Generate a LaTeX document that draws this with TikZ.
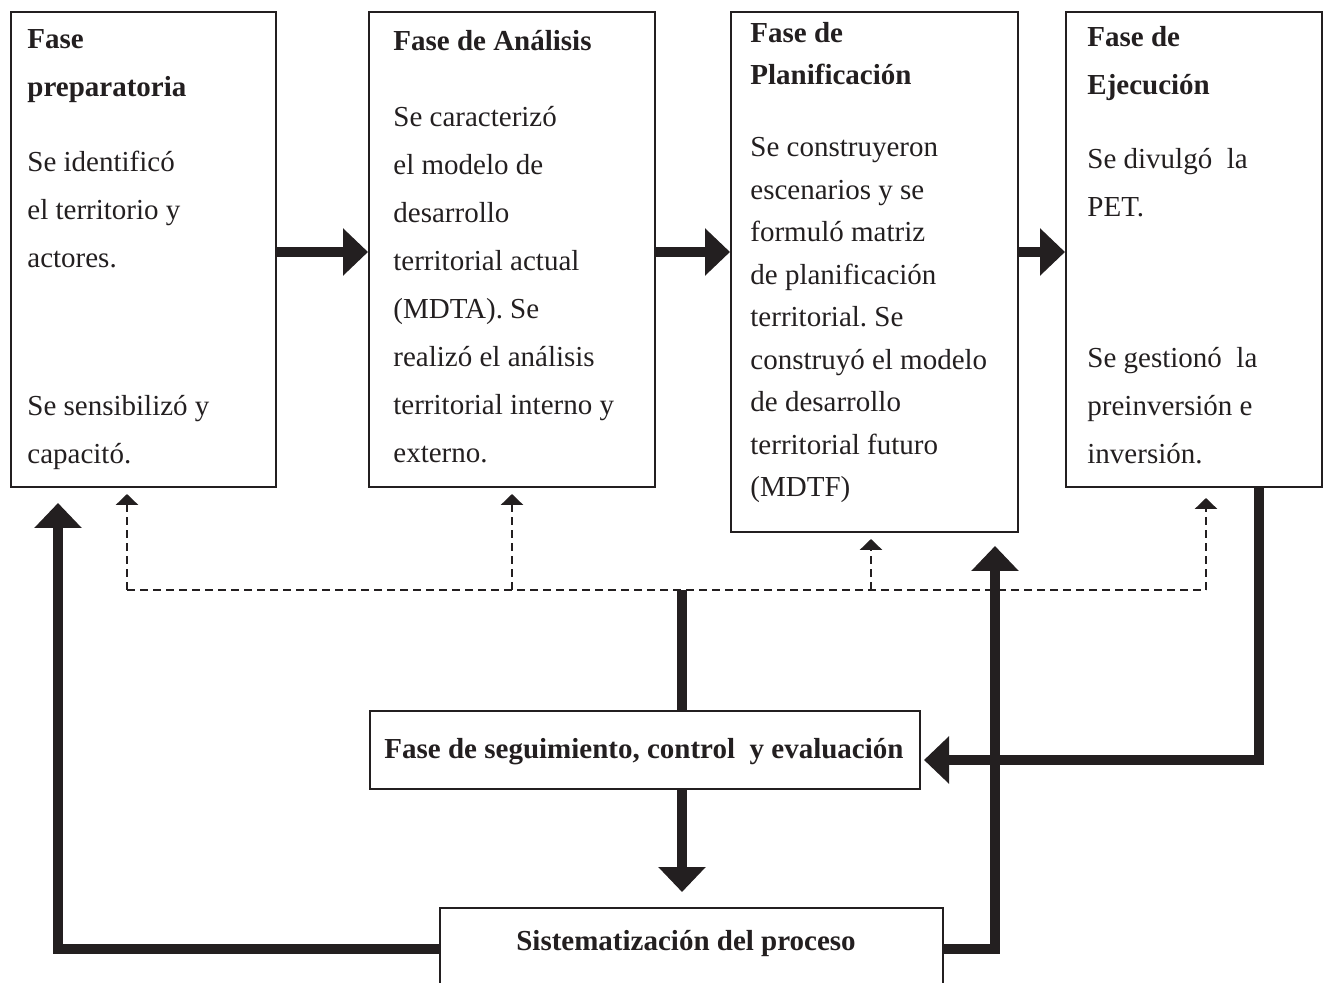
\documentclass[tikz,border=0pt]{standalone}
\usepackage{fontspec}
\setmainfont{Liberation Serif}
\frenchspacing
\usetikzlibrary{arrows.meta,fit}
\definecolor{ink}{HTML}{231F20}
\tikzset{
 box/.style={draw=ink, line width=1pt, inner sep=0pt, rectangle},
 txt/.style={anchor=base west, inner sep=0pt, text=ink, font=\fontsize{14.5pt}{24pt}\selectfont},
 ttl/.style={txt, font=\fontsize{14.5pt}{24pt}\selectfont\bfseries},
 ctr/.style={anchor=base, inner sep=0pt, text=ink, font=\fontsize{14.5pt}{24pt}\selectfont\bfseries},
 thk/.style={line width=5pt, draw=ink, -{Triangle[width=23pt,length=12.5pt]}},
 thkline/.style={line width=5pt, draw=ink},
 dln/.style={line width=1.4pt, draw=ink, dash pattern=on 4pt off 2.5pt},
 dsh/.style={dln, -{Triangle[width=11pt,length=5.5pt]}},
}
\begin{document}
\begin{tikzpicture}[x=0.5pt,y=-0.5pt]
\useasboundingbox (0,0) rectangle (1334,983);
\clip (0,0) rectangle (1334,983);

% boxes
\node[box, fit={(11,12)(276,487)}] (b1) {};
\node[box, fit={(369,12)(655,487)}] (b2) {};
\node[box, fit={(731,12)(1018,532)}] (b3) {};
\node[box, fit={(1066,12)(1322,487)}] (b4) {};
\node[box, fit={(370,711)(920,789)}] (seg) {};
\node[ctr] (segt) at (644,759) {Fase de seguimiento, control\ \ y evaluación};
\node[box, fit={(440,908)(943,1010)}] (sis) {};
\node[ctr] (sist) at (686,950) {Sistematización del proceso};

% box 1 text
\foreach \yy/\ww [count=\i] in {49/Fase, 97/preparatoria}
  \node[ttl] (h1\i) at (27,\yy) {\ww};
\foreach \yy/\ww [count=\i] in {172/{Se identificó}, 220/{el territorio y}, 268/{actores.}, 416/{Se sensibilizó y}, 464/{capacitó.}}
  \node[txt] (l1\i) at (27,\yy) {\ww};

% box 2 text
\node[ttl] (h21) at (393,51) {Fase de Análisis};
\foreach \yy/\ww [count=\i] in {127/{Se caracterizó}, 175/{el modelo de}, 223/{desarrollo}, 271/{territorial actual}, 319/{(MDTA). Se}, 367/{realizó el análisis}, 415/{territorial interno y}, 463/{externo.}}
  \node[txt] (l2\i) at (393,\yy) {\ww};

% box 3 text
\foreach \yy/\ww [count=\i] in {43/{Fase de}, 85/{Planificación}}
  \node[ttl] (h3\i) at (750,\yy) {\ww};
\foreach \yy/\ww [count=\i] in {157/{Se construyeron}, 199.5/{escenarios y se}, 242/{formuló matriz}, 284.5/{de planificación}, 327/{territorial. Se}, 369.5/{construyó el modelo}, 412/{de desarrollo}, 454.5/{territorial futuro}, 497/{(MDTF)}}
  \node[txt] (l3\i) at (750,\yy) {\ww};

% box 4 text
\foreach \yy/\ww [count=\i] in {47/{Fase de}, 95/{Ejecución}}
  \node[ttl] (h4\i) at (1087,\yy) {\ww};
\foreach \yy/\ww [count=\i] in {169/{Se divulgó\ \ la}, 217/{PET.}, 368/{Se gestionó\ \ la}, 416/{preinversión e}, 464/{inversión.}}
  \node[txt] (l4\i) at (1087,\yy) {\ww};

% helper coordinates
\coordinate (ya) at (0,252);
\coordinate (c4) at (1259,760);
\coordinate (xm) at (682,0);
\coordinate (ys) at (0,949);
\coordinate (xl) at (58,0);
\coordinate (xr) at (995,0);
\coordinate (dL) at (127,590);
\coordinate (d2) at (512,590);
\coordinate (d3) at (871,590);
\coordinate (dR) at (1206,590);
\coordinate (dm) at (682,590);

% thick arrows between phases
\draw[thk] (b1.east |- ya) -- (b2.west |- ya);
\draw[thk] (b2.east |- ya) -- (b3.west |- ya);
\draw[thk] (b3.east |- ya) -- (b4.west |- ya);

% execution -> monitoring
\draw[thk, shorten >=1.5pt] (b4.south -| c4) -- (c4) -- (seg.east |- c4);
% monitoring -> systematisation
\draw[thk, shorten >=7.5pt] (seg.south -| xm) -- (sis.north -| xm);
% monitoring up to feedback line
\draw[thkline] (seg.north -| xm) -- (dm);
% systematisation -> phases
\draw[thk, shorten >=7.5pt] (sis.west |- ys) -| (b1.south -| xl);
\draw[thk, shorten >=6.5pt] (sis.east |- ys) -| (b3.south -| xr);

% dashed feedback
\draw[dln] (dL) -- (dR);
\draw[dsh, shorten >=3pt] (dL) -- (b1.south -| dL);
\draw[dsh, shorten >=3pt] (d2) -- (b2.south -| d2);
\draw[dsh, shorten >=3pt] (d3) -- (b3.south -| d3);
\draw[dsh, shorten >=5pt] (dR) -- (b4.south -| dR);
\end{tikzpicture}
\end{document}
